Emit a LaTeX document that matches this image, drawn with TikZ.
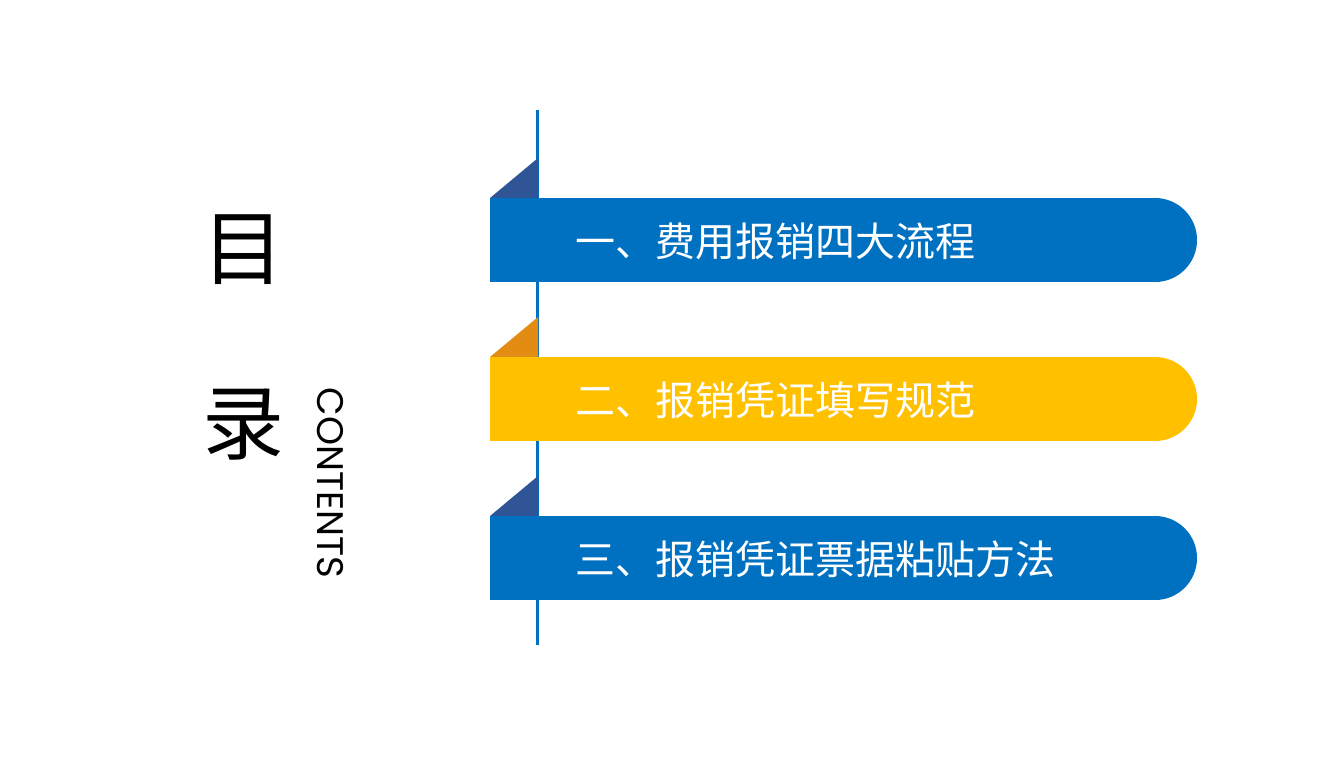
\documentclass[tikz,border=0pt]{standalone}
\usepackage{fontspec}
\setmainfont{Noto Sans CJK SC}
\begin{document}
\begin{tikzpicture}[x=1pt,y=-1pt,
  lbl/.style={anchor=west,text=white,font=\fontsize{40}{40}\selectfont,inner sep=0}]
\definecolor{cblue}{RGB}{0,112,192}
\definecolor{cdark}{RGB}{47,85,151}
\definecolor{cyel}{RGB}{255,192,0}
\definecolor{corg}{RGB}{226,140,20}
\useasboundingbox (0,0) rectangle (1344,756);
\fill[white] (0,0) rectangle (1344,756);
\draw[cblue,line width=3pt] (537,110) -- (537,645);
\foreach \y/\c/\t in {198/cblue/cdark,357/cyel/corg,516/cblue/cdark}{
  \fill[\t] (490,\y) -- (538,\y-40) -- (538,\y) -- cycle;
  \fill[\c] (490,\y) rectangle (1155,\y+84);
  \fill[\c] (1155,\y+42) circle[radius=42];
}
\node[lbl] (a) at (575,241) {一、费用报销四大流程};
\node[lbl] (b) at (575,400) {二、报销凭证填写规范};
\node[lbl] (c) at (575,559) {三、报销凭证票据粘贴方法};
\node[font=\fontsize{82}{82}\selectfont] (m) at (243,250) {目};
\node[font=\fontsize{82}{82}\selectfont] (l) at (243,425) {录};
\node[rotate=-90] (ct) at (330,483) {\fontspec{Poppins}\fontsize{37}{37}\selectfont CONTENTS};
\end{tikzpicture}
\end{document}
